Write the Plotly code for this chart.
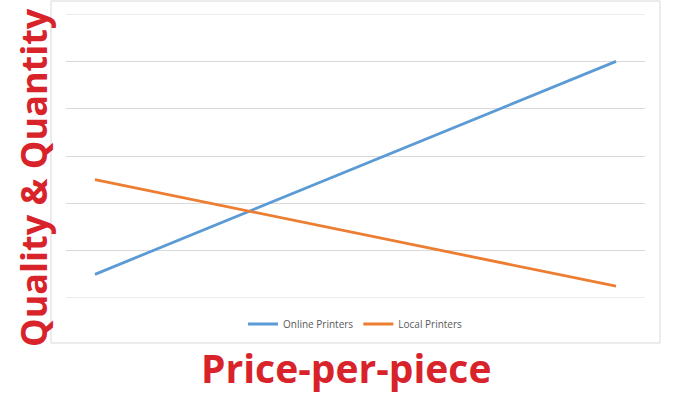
import plotly.graph_objects as go

positions = [1, 10]
online_printers = [0.5, 5.0]
local_printers = [2.5, 0.25]
series_names = ["Online Printers", "Local Printers"]
x_title = "Price-per-piece"
y_title = "Quality & Quantity"

W, H = 678, 396
L, R, T, B = 66, 33, 14, 98
pw, ph = W - L - R, H - T - B

def px(xp):
    return (xp - L) / pw

def py(yp):
    return (H - B - yp) / ph

fig = go.Figure()
fig.add_trace(go.Scatter(x=positions, y=online_printers, mode="lines", name=series_names[0],
                         line=dict(color="#5b9bd5", width=2.8)))
fig.add_trace(go.Scatter(x=positions, y=local_printers, mode="lines", name=series_names[1],
                         line=dict(color="#ed7d31", width=2.8)))

red = "#d9232b"
grid = "#d9d9d9"
fig.update_layout(
    width=W, height=H,
    margin=dict(l=L, r=R, t=T, b=B, autoexpand=False),
    paper_bgcolor="white", plot_bgcolor="white",
    showlegend=True,
    legend=dict(orientation="h", x=0.5, xanchor="center", y=py(324), yanchor="middle",
                font=dict(family="Open Sans", size=10, color="#595959"),
                itemwidth=30, tracegroupgap=0, bgcolor="rgba(0,0,0,0)"),
    xaxis=dict(range=[0.5, 10.5], showgrid=False, zeroline=False, showticklabels=False,
               ticks="", showline=False, fixedrange=True),
    yaxis=dict(range=[0, 6], dtick=1, showgrid=True, gridcolor=grid, gridwidth=1,
               zeroline=False, showticklabels=False, ticks="", showline=False, fixedrange=True),
    shapes=[dict(type="rect", xref="paper", yref="paper",
                 x0=px(51), x1=px(660), y0=py(343), y1=py(1),
                 line=dict(color=grid, width=1), fillcolor="rgba(0,0,0,0)", layer="below"),
            dict(type="line", xref="paper", yref="y", x0=0, x1=1, y0=0, y1=0,
                 line=dict(color=grid, width=1), layer="below"),
            dict(type="line", xref="paper", yref="y", x0=0, x1=1, y0=6, y1=6,
                 line=dict(color=grid, width=1), layer="below")],
    annotations=[
        dict(text=f"<b>{x_title}</b>", xref="paper", yref="paper", x=px(346), y=py(368),
             xanchor="center", yanchor="middle", showarrow=False,
             font=dict(family="Open Sans", size=39, color=red)),
        dict(text=f"<b>{y_title}</b>", xref="paper", yref="paper", x=px(33), y=py(178),
             xanchor="center", yanchor="middle", showarrow=False, textangle=-90,
             font=dict(family="Open Sans", size=36, color=red)),
    ],
)

fig.write_html("out.html", config={"displayModeBar": False},
               post_script="document.body.style.margin='0';document.body.style.padding='0';")
